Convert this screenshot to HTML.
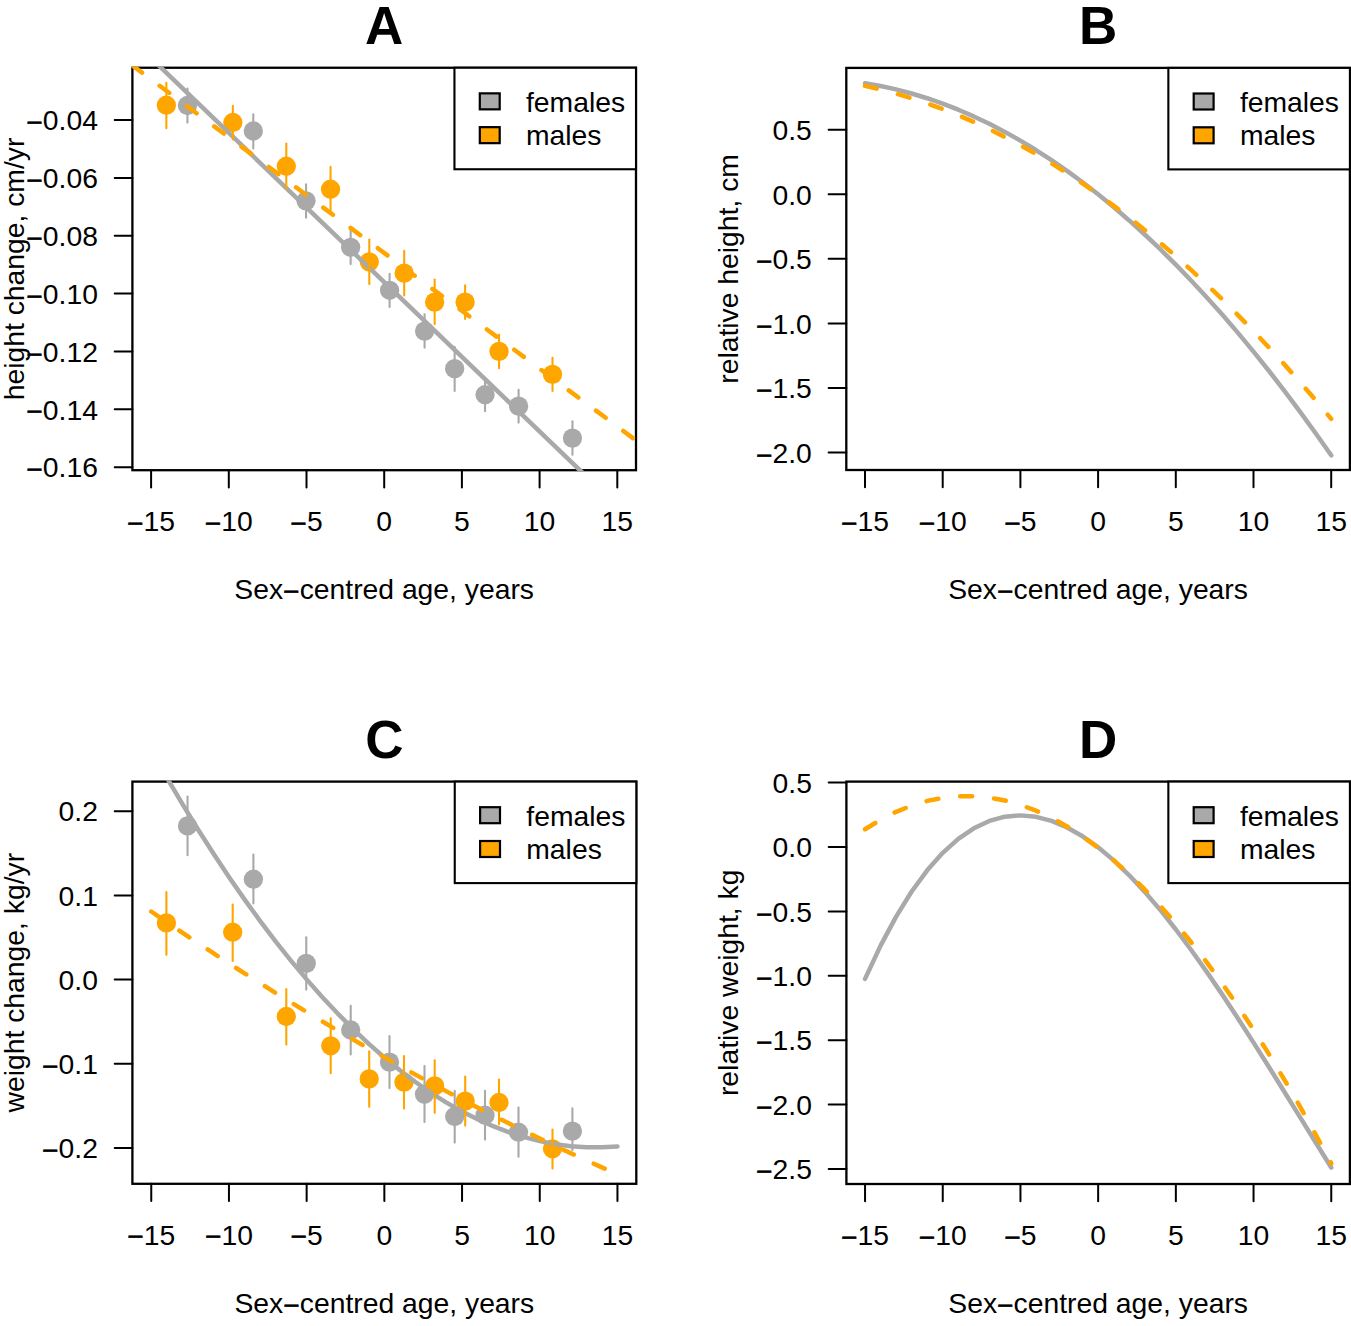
<!DOCTYPE html>
<html><head><meta charset="utf-8"><title>Figure</title>
<style>html,body{margin:0;padding:0;background:#fff;width:1351px;height:1326px;overflow:hidden}
svg text{font-family:"Liberation Sans", sans-serif;font-size:28.3px;fill:#000}</style></head>
<body>
<svg width="1351" height="1326" viewBox="0 0 1351 1326" style="display:block">
<rect x="0" y="0" width="1351" height="1326" fill="#fff"/>
<defs>
<clipPath id="clipA"><rect x="131.10" y="66.45" width="506.20" height="405.05"/></clipPath>
<clipPath id="clipB"><rect x="845.00" y="66.60" width="506.20" height="404.70"/></clipPath>
<clipPath id="clipC"><rect x="131.10" y="780.30" width="506.50" height="404.80"/></clipPath>
<clipPath id="clipD"><rect x="845.10" y="780.30" width="506.10" height="405.00"/></clipPath>
</defs>
<rect x="132.4" y="67.75" width="503.60" height="402.45" fill="none" stroke="#000" stroke-width="2.3"/>
<g clip-path="url(#clipA)">
<circle cx="187.45" cy="105.50" r="9.65" fill="#A9A9A9"/>
<circle cx="253.30" cy="131.00" r="9.65" fill="#A9A9A9"/>
<circle cx="306.05" cy="200.85" r="9.65" fill="#A9A9A9"/>
<circle cx="350.65" cy="247.30" r="9.65" fill="#A9A9A9"/>
<circle cx="389.60" cy="290.30" r="9.65" fill="#A9A9A9"/>
<circle cx="424.60" cy="331.10" r="9.65" fill="#A9A9A9"/>
<circle cx="454.65" cy="368.65" r="9.65" fill="#A9A9A9"/>
<circle cx="485.05" cy="394.70" r="9.65" fill="#A9A9A9"/>
<circle cx="518.60" cy="406.15" r="9.65" fill="#A9A9A9"/>
<circle cx="572.45" cy="438.10" r="9.65" fill="#A9A9A9"/>
<circle cx="166.35" cy="105.20" r="9.65" fill="#FFA500"/>
<circle cx="232.85" cy="122.45" r="9.65" fill="#FFA500"/>
<circle cx="286.30" cy="166.25" r="9.65" fill="#FFA500"/>
<circle cx="330.55" cy="189.25" r="9.65" fill="#FFA500"/>
<circle cx="369.30" cy="261.85" r="9.65" fill="#FFA500"/>
<circle cx="404.20" cy="273.15" r="9.65" fill="#FFA500"/>
<circle cx="434.65" cy="302.15" r="9.65" fill="#FFA500"/>
<circle cx="465.10" cy="302.15" r="9.65" fill="#FFA500"/>
<circle cx="499.05" cy="351.40" r="9.65" fill="#FFA500"/>
<circle cx="552.50" cy="374.40" r="9.65" fill="#FFA500"/>
<line x1="187.45" y1="88.50" x2="187.45" y2="122.60" stroke="#A9A9A9" stroke-width="2.1" stroke-linecap="round"/>
<line x1="253.30" y1="114.40" x2="253.30" y2="148.50" stroke="#A9A9A9" stroke-width="2.1" stroke-linecap="round"/>
<line x1="306.05" y1="184.25" x2="306.05" y2="217.80" stroke="#A9A9A9" stroke-width="2.1" stroke-linecap="round"/>
<line x1="350.65" y1="230.60" x2="350.65" y2="264.10" stroke="#A9A9A9" stroke-width="2.1" stroke-linecap="round"/>
<line x1="389.60" y1="273.80" x2="389.60" y2="307.00" stroke="#A9A9A9" stroke-width="2.1" stroke-linecap="round"/>
<line x1="424.60" y1="314.30" x2="424.60" y2="347.80" stroke="#A9A9A9" stroke-width="2.1" stroke-linecap="round"/>
<line x1="454.65" y1="346.70" x2="454.65" y2="391.00" stroke="#A9A9A9" stroke-width="2.1" stroke-linecap="round"/>
<line x1="485.05" y1="381.50" x2="485.05" y2="411.30" stroke="#A9A9A9" stroke-width="2.1" stroke-linecap="round"/>
<line x1="518.60" y1="389.70" x2="518.60" y2="422.60" stroke="#A9A9A9" stroke-width="2.1" stroke-linecap="round"/>
<line x1="572.45" y1="421.30" x2="572.45" y2="454.80" stroke="#A9A9A9" stroke-width="2.1" stroke-linecap="round"/>
<line x1="132.40" y1="40.15" x2="636.00" y2="524.11" stroke="#A9A9A9" stroke-width="4.5" stroke-linecap="butt"/>
<line x1="166.35" y1="82.80" x2="166.35" y2="128.20" stroke="#FFA500" stroke-width="2.1" stroke-linecap="round"/>
<line x1="232.85" y1="105.90" x2="232.85" y2="139.50" stroke="#FFA500" stroke-width="2.1" stroke-linecap="round"/>
<line x1="286.30" y1="143.50" x2="286.30" y2="188.60" stroke="#FFA500" stroke-width="2.1" stroke-linecap="round"/>
<line x1="330.55" y1="166.90" x2="330.55" y2="210.60" stroke="#FFA500" stroke-width="2.1" stroke-linecap="round"/>
<line x1="369.30" y1="239.50" x2="369.30" y2="284.10" stroke="#FFA500" stroke-width="2.1" stroke-linecap="round"/>
<line x1="404.20" y1="250.90" x2="404.20" y2="295.40" stroke="#FFA500" stroke-width="2.1" stroke-linecap="round"/>
<line x1="434.65" y1="279.45" x2="434.65" y2="324.10" stroke="#FFA500" stroke-width="2.1" stroke-linecap="round"/>
<line x1="465.10" y1="285.40" x2="465.10" y2="319.00" stroke="#FFA500" stroke-width="2.1" stroke-linecap="round"/>
<line x1="499.05" y1="334.65" x2="499.05" y2="368.20" stroke="#FFA500" stroke-width="2.1" stroke-linecap="round"/>
<line x1="552.50" y1="357.80" x2="552.50" y2="391.00" stroke="#FFA500" stroke-width="2.1" stroke-linecap="round"/>
<line x1="132.40" y1="65.48" x2="636.00" y2="440.41" stroke="#FFA500" stroke-width="4.5" stroke-linecap="round" stroke-dasharray="12.0 22.0"/>
</g>
<line x1="151.10" y1="470.20" x2="151.10" y2="487.50" stroke="#000" stroke-width="2.0" stroke-linecap="round"/>
<text x="151.10" y="530.90" text-anchor="middle"><tspan dy="1.9" style="stroke:#000;stroke-width:0.5px">−</tspan><tspan dy="-1.9">15</tspan></text>
<line x1="228.80" y1="470.20" x2="228.80" y2="487.50" stroke="#000" stroke-width="2.0" stroke-linecap="round"/>
<text x="228.80" y="530.90" text-anchor="middle"><tspan dy="1.9" style="stroke:#000;stroke-width:0.5px">−</tspan><tspan dy="-1.9">10</tspan></text>
<line x1="306.50" y1="470.20" x2="306.50" y2="487.50" stroke="#000" stroke-width="2.0" stroke-linecap="round"/>
<text x="306.50" y="530.90" text-anchor="middle"><tspan dy="1.9" style="stroke:#000;stroke-width:0.5px">−</tspan><tspan dy="-1.9">5</tspan></text>
<line x1="384.20" y1="470.20" x2="384.20" y2="487.50" stroke="#000" stroke-width="2.0" stroke-linecap="round"/>
<text x="384.20" y="530.90" text-anchor="middle">0</text>
<line x1="461.90" y1="470.20" x2="461.90" y2="487.50" stroke="#000" stroke-width="2.0" stroke-linecap="round"/>
<text x="461.90" y="530.90" text-anchor="middle">5</text>
<line x1="539.60" y1="470.20" x2="539.60" y2="487.50" stroke="#000" stroke-width="2.0" stroke-linecap="round"/>
<text x="539.60" y="530.90" text-anchor="middle">10</text>
<line x1="617.30" y1="470.20" x2="617.30" y2="487.50" stroke="#000" stroke-width="2.0" stroke-linecap="round"/>
<text x="617.30" y="530.90" text-anchor="middle">15</text>
<line x1="132.40" y1="120.05" x2="114.70" y2="120.05" stroke="#000" stroke-width="2.0" stroke-linecap="round"/>
<text x="97.90" y="130.25" text-anchor="end"><tspan dy="1.9" style="stroke:#000;stroke-width:0.5px">−</tspan><tspan dy="-1.9">0.04</tspan></text>
<line x1="132.40" y1="177.90" x2="114.70" y2="177.90" stroke="#000" stroke-width="2.0" stroke-linecap="round"/>
<text x="97.90" y="188.10" text-anchor="end"><tspan dy="1.9" style="stroke:#000;stroke-width:0.5px">−</tspan><tspan dy="-1.9">0.06</tspan></text>
<line x1="132.40" y1="235.75" x2="114.70" y2="235.75" stroke="#000" stroke-width="2.0" stroke-linecap="round"/>
<text x="97.90" y="245.95" text-anchor="end"><tspan dy="1.9" style="stroke:#000;stroke-width:0.5px">−</tspan><tspan dy="-1.9">0.08</tspan></text>
<line x1="132.40" y1="293.60" x2="114.70" y2="293.60" stroke="#000" stroke-width="2.0" stroke-linecap="round"/>
<text x="97.90" y="303.80" text-anchor="end"><tspan dy="1.9" style="stroke:#000;stroke-width:0.5px">−</tspan><tspan dy="-1.9">0.10</tspan></text>
<line x1="132.40" y1="351.45" x2="114.70" y2="351.45" stroke="#000" stroke-width="2.0" stroke-linecap="round"/>
<text x="97.90" y="361.65" text-anchor="end"><tspan dy="1.9" style="stroke:#000;stroke-width:0.5px">−</tspan><tspan dy="-1.9">0.12</tspan></text>
<line x1="132.40" y1="409.30" x2="114.70" y2="409.30" stroke="#000" stroke-width="2.0" stroke-linecap="round"/>
<text x="97.90" y="419.50" text-anchor="end"><tspan dy="1.9" style="stroke:#000;stroke-width:0.5px">−</tspan><tspan dy="-1.9">0.14</tspan></text>
<line x1="132.40" y1="467.15" x2="114.70" y2="467.15" stroke="#000" stroke-width="2.0" stroke-linecap="round"/>
<text x="97.90" y="477.35" text-anchor="end"><tspan dy="1.9" style="stroke:#000;stroke-width:0.5px">−</tspan><tspan dy="-1.9">0.16</tspan></text>
<text x="384.20" y="599.10" text-anchor="middle">Sex<tspan dy="1.9" style="stroke:#000;stroke-width:0.5px">−</tspan><tspan dy="-1.9">centred age, years</tspan></text>
<text x="23.85" y="268.98" text-anchor="middle" transform="rotate(-90 23.85 268.98)">height change, cm/yr</text>
<text x="384.20" y="43.80" text-anchor="middle" style="font-weight:bold;font-size:53px">A</text>
<rect x="454.45" y="67.75" width="181.55" height="101.50" fill="#fff" stroke="#000" stroke-width="2.1"/>
<rect x="479.80" y="93.35" width="19.9" height="16.0" fill="#A9A9A9" stroke="#000" stroke-width="2.2"/>
<rect x="479.80" y="127.15" width="19.9" height="16.0" fill="#FFA500" stroke="#000" stroke-width="2.2"/>
<text x="526.00" y="111.70">females</text>
<text x="526.00" y="145.20">males</text>
<rect x="846.3" y="67.9" width="503.60" height="402.10" fill="none" stroke="#000" stroke-width="2.3"/>
<g clip-path="url(#clipB)">
<polyline points="865.00,83.29 880.54,86.02 896.08,89.42 911.62,93.49 927.16,98.23 942.70,103.63 958.24,109.69 973.78,116.43 989.32,123.83 1004.86,131.90 1020.40,140.63 1035.94,150.03 1051.48,160.10 1067.02,170.83 1082.56,182.23 1098.10,194.30 1113.64,207.03 1129.18,220.43 1144.72,234.50 1160.26,249.23 1175.80,264.63 1191.34,280.70 1206.88,297.43 1222.42,314.83 1237.96,332.90 1253.50,351.63 1269.04,371.03 1284.58,391.09 1300.12,411.82 1315.66,433.22 1331.20,455.29" fill="none" stroke="#A9A9A9" stroke-width="4.5" stroke-linecap="round" stroke-linejoin="round"/>
<polyline points="865.00,85.87 880.54,89.49 896.08,93.62 911.62,98.27 927.16,103.43 942.70,109.11 958.24,115.31 973.78,122.02 989.32,129.25 1004.86,137.00 1020.40,145.26 1035.94,154.03 1051.48,163.33 1067.02,173.13 1082.56,183.46 1098.10,194.30 1113.64,205.66 1129.18,217.53 1144.72,229.92 1160.26,242.82 1175.80,256.24 1191.34,270.18 1206.88,284.63 1222.42,299.60 1237.96,315.09 1253.50,331.09 1269.04,347.60 1284.58,364.64 1300.12,382.19 1315.66,400.25 1331.20,418.83" fill="none" stroke="#FFA500" stroke-width="4.5" stroke-linecap="round" stroke-linejoin="round" stroke-dasharray="12.0 22.0"/>
</g>
<line x1="865.00" y1="470.00" x2="865.00" y2="487.30" stroke="#000" stroke-width="2.0" stroke-linecap="round"/>
<text x="865.00" y="530.70" text-anchor="middle"><tspan dy="1.9" style="stroke:#000;stroke-width:0.5px">−</tspan><tspan dy="-1.9">15</tspan></text>
<line x1="942.70" y1="470.00" x2="942.70" y2="487.30" stroke="#000" stroke-width="2.0" stroke-linecap="round"/>
<text x="942.70" y="530.70" text-anchor="middle"><tspan dy="1.9" style="stroke:#000;stroke-width:0.5px">−</tspan><tspan dy="-1.9">10</tspan></text>
<line x1="1020.40" y1="470.00" x2="1020.40" y2="487.30" stroke="#000" stroke-width="2.0" stroke-linecap="round"/>
<text x="1020.40" y="530.70" text-anchor="middle"><tspan dy="1.9" style="stroke:#000;stroke-width:0.5px">−</tspan><tspan dy="-1.9">5</tspan></text>
<line x1="1098.10" y1="470.00" x2="1098.10" y2="487.30" stroke="#000" stroke-width="2.0" stroke-linecap="round"/>
<text x="1098.10" y="530.70" text-anchor="middle">0</text>
<line x1="1175.80" y1="470.00" x2="1175.80" y2="487.30" stroke="#000" stroke-width="2.0" stroke-linecap="round"/>
<text x="1175.80" y="530.70" text-anchor="middle">5</text>
<line x1="1253.50" y1="470.00" x2="1253.50" y2="487.30" stroke="#000" stroke-width="2.0" stroke-linecap="round"/>
<text x="1253.50" y="530.70" text-anchor="middle">10</text>
<line x1="1331.20" y1="470.00" x2="1331.20" y2="487.30" stroke="#000" stroke-width="2.0" stroke-linecap="round"/>
<text x="1331.20" y="530.70" text-anchor="middle">15</text>
<line x1="846.30" y1="129.75" x2="828.60" y2="129.75" stroke="#000" stroke-width="2.0" stroke-linecap="round"/>
<text x="811.80" y="139.95" text-anchor="end">0.5</text>
<line x1="846.30" y1="194.30" x2="828.60" y2="194.30" stroke="#000" stroke-width="2.0" stroke-linecap="round"/>
<text x="811.80" y="204.50" text-anchor="end">0.0</text>
<line x1="846.30" y1="258.85" x2="828.60" y2="258.85" stroke="#000" stroke-width="2.0" stroke-linecap="round"/>
<text x="811.80" y="269.05" text-anchor="end"><tspan dy="1.9" style="stroke:#000;stroke-width:0.5px">−</tspan><tspan dy="-1.9">0.5</tspan></text>
<line x1="846.30" y1="323.40" x2="828.60" y2="323.40" stroke="#000" stroke-width="2.0" stroke-linecap="round"/>
<text x="811.80" y="333.60" text-anchor="end"><tspan dy="1.9" style="stroke:#000;stroke-width:0.5px">−</tspan><tspan dy="-1.9">1.0</tspan></text>
<line x1="846.30" y1="387.95" x2="828.60" y2="387.95" stroke="#000" stroke-width="2.0" stroke-linecap="round"/>
<text x="811.80" y="398.15" text-anchor="end"><tspan dy="1.9" style="stroke:#000;stroke-width:0.5px">−</tspan><tspan dy="-1.9">1.5</tspan></text>
<line x1="846.30" y1="452.50" x2="828.60" y2="452.50" stroke="#000" stroke-width="2.0" stroke-linecap="round"/>
<text x="811.80" y="462.70" text-anchor="end"><tspan dy="1.9" style="stroke:#000;stroke-width:0.5px">−</tspan><tspan dy="-1.9">2.0</tspan></text>
<text x="1098.10" y="598.90" text-anchor="middle">Sex<tspan dy="1.9" style="stroke:#000;stroke-width:0.5px">−</tspan><tspan dy="-1.9">centred age, years</tspan></text>
<text x="737.75" y="268.95" text-anchor="middle" transform="rotate(-90 737.75 268.95)">relative height, cm</text>
<text x="1098.10" y="43.95" text-anchor="middle" style="font-weight:bold;font-size:53px">B</text>
<rect x="1168.35" y="67.90" width="181.55" height="101.50" fill="#fff" stroke="#000" stroke-width="2.1"/>
<rect x="1193.70" y="93.50" width="19.9" height="16.0" fill="#A9A9A9" stroke="#000" stroke-width="2.2"/>
<rect x="1193.70" y="127.30" width="19.9" height="16.0" fill="#FFA500" stroke="#000" stroke-width="2.2"/>
<text x="1239.90" y="111.85">females</text>
<text x="1239.90" y="145.35">males</text>
<rect x="132.4" y="781.6" width="503.90" height="402.20" fill="none" stroke="#000" stroke-width="2.3"/>
<g clip-path="url(#clipC)">
<circle cx="187.55" cy="825.90" r="9.65" fill="#A9A9A9"/>
<circle cx="253.40" cy="879.20" r="9.65" fill="#A9A9A9"/>
<circle cx="306.25" cy="963.40" r="9.65" fill="#A9A9A9"/>
<circle cx="350.70" cy="1030.00" r="9.65" fill="#A9A9A9"/>
<circle cx="389.50" cy="1062.10" r="9.65" fill="#A9A9A9"/>
<circle cx="424.50" cy="1094.30" r="9.65" fill="#A9A9A9"/>
<circle cx="454.70" cy="1116.50" r="9.65" fill="#A9A9A9"/>
<circle cx="485.00" cy="1115.20" r="9.65" fill="#A9A9A9"/>
<circle cx="518.50" cy="1132.20" r="9.65" fill="#A9A9A9"/>
<circle cx="572.40" cy="1131.10" r="9.65" fill="#A9A9A9"/>
<circle cx="166.40" cy="922.90" r="9.65" fill="#FFA500"/>
<circle cx="232.70" cy="932.20" r="9.65" fill="#FFA500"/>
<circle cx="286.30" cy="1016.50" r="9.65" fill="#FFA500"/>
<circle cx="330.70" cy="1045.80" r="9.65" fill="#FFA500"/>
<circle cx="369.20" cy="1078.90" r="9.65" fill="#FFA500"/>
<circle cx="404.00" cy="1082.20" r="9.65" fill="#FFA500"/>
<circle cx="434.70" cy="1085.90" r="9.65" fill="#FFA500"/>
<circle cx="465.20" cy="1101.10" r="9.65" fill="#FFA500"/>
<circle cx="499.00" cy="1102.50" r="9.65" fill="#FFA500"/>
<circle cx="552.50" cy="1148.80" r="9.65" fill="#FFA500"/>
<line x1="187.55" y1="796.50" x2="187.55" y2="855.20" stroke="#A9A9A9" stroke-width="2.1" stroke-linecap="round"/>
<line x1="253.40" y1="854.60" x2="253.40" y2="903.40" stroke="#A9A9A9" stroke-width="2.1" stroke-linecap="round"/>
<line x1="306.25" y1="937.30" x2="306.25" y2="989.60" stroke="#A9A9A9" stroke-width="2.1" stroke-linecap="round"/>
<line x1="350.70" y1="1005.70" x2="350.70" y2="1054.40" stroke="#A9A9A9" stroke-width="2.1" stroke-linecap="round"/>
<line x1="389.50" y1="1036.10" x2="389.50" y2="1088.10" stroke="#A9A9A9" stroke-width="2.1" stroke-linecap="round"/>
<line x1="424.50" y1="1066.10" x2="424.50" y2="1121.90" stroke="#A9A9A9" stroke-width="2.1" stroke-linecap="round"/>
<line x1="454.70" y1="1090.90" x2="454.70" y2="1142.60" stroke="#A9A9A9" stroke-width="2.1" stroke-linecap="round"/>
<line x1="485.00" y1="1090.90" x2="485.00" y2="1139.60" stroke="#A9A9A9" stroke-width="2.1" stroke-linecap="round"/>
<line x1="518.50" y1="1107.50" x2="518.50" y2="1156.70" stroke="#A9A9A9" stroke-width="2.1" stroke-linecap="round"/>
<line x1="572.40" y1="1108.40" x2="572.40" y2="1150.20" stroke="#A9A9A9" stroke-width="2.1" stroke-linecap="round"/>
<polyline points="151.25,750.31 166.79,777.58 182.33,803.88 197.87,829.21 213.41,853.58 228.95,876.97 244.49,899.39 260.03,920.84 275.57,941.32 291.11,960.83 306.65,979.37 322.19,996.95 337.73,1013.55 353.27,1029.18 368.81,1043.84 384.35,1057.53 399.89,1070.25 415.43,1082.00 430.97,1092.78 446.51,1102.59 462.05,1111.43 477.59,1119.31 493.13,1126.21 508.67,1132.14 524.21,1137.10 539.75,1141.09 555.29,1144.11 570.83,1146.16 586.37,1147.24 601.91,1147.35 617.45,1146.49" fill="none" stroke="#A9A9A9" stroke-width="4.5" stroke-linecap="round" stroke-linejoin="round"/>
<line x1="166.40" y1="892.00" x2="166.40" y2="954.80" stroke="#FFA500" stroke-width="2.1" stroke-linecap="round"/>
<line x1="232.70" y1="904.60" x2="232.70" y2="961.00" stroke="#FFA500" stroke-width="2.1" stroke-linecap="round"/>
<line x1="286.30" y1="989.10" x2="286.30" y2="1044.40" stroke="#FFA500" stroke-width="2.1" stroke-linecap="round"/>
<line x1="330.70" y1="1018.40" x2="330.70" y2="1073.20" stroke="#FFA500" stroke-width="2.1" stroke-linecap="round"/>
<line x1="369.20" y1="1051.30" x2="369.20" y2="1106.80" stroke="#FFA500" stroke-width="2.1" stroke-linecap="round"/>
<line x1="404.00" y1="1056.10" x2="404.00" y2="1108.50" stroke="#FFA500" stroke-width="2.1" stroke-linecap="round"/>
<line x1="434.70" y1="1060.20" x2="434.70" y2="1112.70" stroke="#FFA500" stroke-width="2.1" stroke-linecap="round"/>
<line x1="465.20" y1="1076.50" x2="465.20" y2="1125.60" stroke="#FFA500" stroke-width="2.1" stroke-linecap="round"/>
<line x1="499.00" y1="1079.50" x2="499.00" y2="1124.30" stroke="#FFA500" stroke-width="2.1" stroke-linecap="round"/>
<line x1="552.50" y1="1129.50" x2="552.50" y2="1168.50" stroke="#FFA500" stroke-width="2.1" stroke-linecap="round"/>
<polyline points="151.25,911.51 166.79,922.13 182.33,932.63 197.87,942.99 213.41,953.23 228.95,963.34 244.49,973.32 260.03,983.17 275.57,992.89 291.11,1002.49 306.65,1011.95 322.19,1021.29 337.73,1030.50 353.27,1039.58 368.81,1048.53 384.35,1057.36 399.89,1066.05 415.43,1074.62 430.97,1083.05 446.51,1091.36 462.05,1099.54 477.59,1107.60 493.13,1115.52 508.67,1123.31 524.21,1130.98 539.75,1138.52 555.29,1145.93 570.83,1153.21 586.37,1160.36 601.91,1167.38 617.45,1174.28" fill="none" stroke="#FFA500" stroke-width="4.5" stroke-linecap="round" stroke-linejoin="round" stroke-dasharray="12.0 22.0"/>
</g>
<line x1="151.25" y1="1183.80" x2="151.25" y2="1201.10" stroke="#000" stroke-width="2.0" stroke-linecap="round"/>
<text x="151.25" y="1244.50" text-anchor="middle"><tspan dy="1.9" style="stroke:#000;stroke-width:0.5px">−</tspan><tspan dy="-1.9">15</tspan></text>
<line x1="228.95" y1="1183.80" x2="228.95" y2="1201.10" stroke="#000" stroke-width="2.0" stroke-linecap="round"/>
<text x="228.95" y="1244.50" text-anchor="middle"><tspan dy="1.9" style="stroke:#000;stroke-width:0.5px">−</tspan><tspan dy="-1.9">10</tspan></text>
<line x1="306.65" y1="1183.80" x2="306.65" y2="1201.10" stroke="#000" stroke-width="2.0" stroke-linecap="round"/>
<text x="306.65" y="1244.50" text-anchor="middle"><tspan dy="1.9" style="stroke:#000;stroke-width:0.5px">−</tspan><tspan dy="-1.9">5</tspan></text>
<line x1="384.35" y1="1183.80" x2="384.35" y2="1201.10" stroke="#000" stroke-width="2.0" stroke-linecap="round"/>
<text x="384.35" y="1244.50" text-anchor="middle">0</text>
<line x1="462.05" y1="1183.80" x2="462.05" y2="1201.10" stroke="#000" stroke-width="2.0" stroke-linecap="round"/>
<text x="462.05" y="1244.50" text-anchor="middle">5</text>
<line x1="539.75" y1="1183.80" x2="539.75" y2="1201.10" stroke="#000" stroke-width="2.0" stroke-linecap="round"/>
<text x="539.75" y="1244.50" text-anchor="middle">10</text>
<line x1="617.45" y1="1183.80" x2="617.45" y2="1201.10" stroke="#000" stroke-width="2.0" stroke-linecap="round"/>
<text x="617.45" y="1244.50" text-anchor="middle">15</text>
<line x1="132.40" y1="811.20" x2="114.70" y2="811.20" stroke="#000" stroke-width="2.0" stroke-linecap="round"/>
<text x="97.90" y="821.40" text-anchor="end">0.2</text>
<line x1="132.40" y1="895.40" x2="114.70" y2="895.40" stroke="#000" stroke-width="2.0" stroke-linecap="round"/>
<text x="97.90" y="905.60" text-anchor="end">0.1</text>
<line x1="132.40" y1="979.60" x2="114.70" y2="979.60" stroke="#000" stroke-width="2.0" stroke-linecap="round"/>
<text x="97.90" y="989.80" text-anchor="end">0.0</text>
<line x1="132.40" y1="1063.80" x2="114.70" y2="1063.80" stroke="#000" stroke-width="2.0" stroke-linecap="round"/>
<text x="97.90" y="1074.00" text-anchor="end"><tspan dy="1.9" style="stroke:#000;stroke-width:0.5px">−</tspan><tspan dy="-1.9">0.1</tspan></text>
<line x1="132.40" y1="1148.00" x2="114.70" y2="1148.00" stroke="#000" stroke-width="2.0" stroke-linecap="round"/>
<text x="97.90" y="1158.20" text-anchor="end"><tspan dy="1.9" style="stroke:#000;stroke-width:0.5px">−</tspan><tspan dy="-1.9">0.2</tspan></text>
<text x="384.35" y="1312.70" text-anchor="middle">Sex<tspan dy="1.9" style="stroke:#000;stroke-width:0.5px">−</tspan><tspan dy="-1.9">centred age, years</tspan></text>
<text x="23.85" y="982.70" text-anchor="middle" transform="rotate(-90 23.85 982.70)">weight change, kg/yr</text>
<text x="384.35" y="757.65" text-anchor="middle" style="font-weight:bold;font-size:53px">C</text>
<rect x="454.75" y="781.60" width="181.55" height="101.50" fill="#fff" stroke="#000" stroke-width="2.1"/>
<rect x="480.10" y="807.20" width="19.9" height="16.0" fill="#A9A9A9" stroke="#000" stroke-width="2.2"/>
<rect x="480.10" y="841.00" width="19.9" height="16.0" fill="#FFA500" stroke="#000" stroke-width="2.2"/>
<text x="526.30" y="825.55">females</text>
<text x="526.30" y="859.05">males</text>
<rect x="846.4" y="781.6" width="503.50" height="402.40" fill="none" stroke="#000" stroke-width="2.3"/>
<g clip-path="url(#clipD)">
<polyline points="865.05,978.89 880.59,945.66 896.13,916.59 911.67,891.53 927.21,870.32 942.75,852.81 958.29,838.85 973.83,828.28 989.37,820.94 1004.91,816.69 1020.45,815.37 1035.99,816.83 1051.53,820.91 1067.07,827.45 1082.61,836.32 1098.15,847.34 1113.69,860.37 1129.23,875.26 1144.77,891.84 1160.31,909.97 1175.85,929.50 1191.39,950.26 1206.93,972.11 1222.47,994.88 1238.01,1018.44 1253.55,1042.62 1269.09,1067.26 1284.63,1092.23 1300.17,1117.35 1315.71,1142.48 1331.25,1167.47" fill="none" stroke="#A9A9A9" stroke-width="4.5" stroke-linecap="round" stroke-linejoin="round"/>
<polyline points="865.05,829.25 880.59,819.74 896.13,811.86 911.67,805.59 927.21,800.91 942.75,797.79 958.29,796.21 973.83,796.15 989.37,797.59 1004.91,800.50 1020.45,804.87 1035.99,810.67 1051.53,817.87 1067.07,826.47 1082.61,836.43 1098.15,847.73 1113.69,860.35 1129.23,874.28 1144.77,889.48 1160.31,905.93 1175.85,923.62 1191.39,942.51 1206.93,962.60 1222.47,983.85 1238.01,1006.25 1253.55,1029.76 1269.09,1054.38 1284.63,1080.08 1300.17,1106.83 1315.71,1134.62 1331.25,1163.42" fill="none" stroke="#FFA500" stroke-width="4.5" stroke-linecap="round" stroke-linejoin="round" stroke-dasharray="12.0 22.0"/>
</g>
<line x1="865.05" y1="1184.00" x2="865.05" y2="1201.30" stroke="#000" stroke-width="2.0" stroke-linecap="round"/>
<text x="865.05" y="1244.70" text-anchor="middle"><tspan dy="1.9" style="stroke:#000;stroke-width:0.5px">−</tspan><tspan dy="-1.9">15</tspan></text>
<line x1="942.75" y1="1184.00" x2="942.75" y2="1201.30" stroke="#000" stroke-width="2.0" stroke-linecap="round"/>
<text x="942.75" y="1244.70" text-anchor="middle"><tspan dy="1.9" style="stroke:#000;stroke-width:0.5px">−</tspan><tspan dy="-1.9">10</tspan></text>
<line x1="1020.45" y1="1184.00" x2="1020.45" y2="1201.30" stroke="#000" stroke-width="2.0" stroke-linecap="round"/>
<text x="1020.45" y="1244.70" text-anchor="middle"><tspan dy="1.9" style="stroke:#000;stroke-width:0.5px">−</tspan><tspan dy="-1.9">5</tspan></text>
<line x1="1098.15" y1="1184.00" x2="1098.15" y2="1201.30" stroke="#000" stroke-width="2.0" stroke-linecap="round"/>
<text x="1098.15" y="1244.70" text-anchor="middle">0</text>
<line x1="1175.85" y1="1184.00" x2="1175.85" y2="1201.30" stroke="#000" stroke-width="2.0" stroke-linecap="round"/>
<text x="1175.85" y="1244.70" text-anchor="middle">5</text>
<line x1="1253.55" y1="1184.00" x2="1253.55" y2="1201.30" stroke="#000" stroke-width="2.0" stroke-linecap="round"/>
<text x="1253.55" y="1244.70" text-anchor="middle">10</text>
<line x1="1331.25" y1="1184.00" x2="1331.25" y2="1201.30" stroke="#000" stroke-width="2.0" stroke-linecap="round"/>
<text x="1331.25" y="1244.70" text-anchor="middle">15</text>
<line x1="846.40" y1="782.60" x2="828.70" y2="782.60" stroke="#000" stroke-width="2.0" stroke-linecap="round"/>
<text x="811.90" y="792.80" text-anchor="end">0.5</text>
<line x1="846.40" y1="847.00" x2="828.70" y2="847.00" stroke="#000" stroke-width="2.0" stroke-linecap="round"/>
<text x="811.90" y="857.20" text-anchor="end">0.0</text>
<line x1="846.40" y1="911.40" x2="828.70" y2="911.40" stroke="#000" stroke-width="2.0" stroke-linecap="round"/>
<text x="811.90" y="921.60" text-anchor="end"><tspan dy="1.9" style="stroke:#000;stroke-width:0.5px">−</tspan><tspan dy="-1.9">0.5</tspan></text>
<line x1="846.40" y1="975.80" x2="828.70" y2="975.80" stroke="#000" stroke-width="2.0" stroke-linecap="round"/>
<text x="811.90" y="986.00" text-anchor="end"><tspan dy="1.9" style="stroke:#000;stroke-width:0.5px">−</tspan><tspan dy="-1.9">1.0</tspan></text>
<line x1="846.40" y1="1040.20" x2="828.70" y2="1040.20" stroke="#000" stroke-width="2.0" stroke-linecap="round"/>
<text x="811.90" y="1050.40" text-anchor="end"><tspan dy="1.9" style="stroke:#000;stroke-width:0.5px">−</tspan><tspan dy="-1.9">1.5</tspan></text>
<line x1="846.40" y1="1104.60" x2="828.70" y2="1104.60" stroke="#000" stroke-width="2.0" stroke-linecap="round"/>
<text x="811.90" y="1114.80" text-anchor="end"><tspan dy="1.9" style="stroke:#000;stroke-width:0.5px">−</tspan><tspan dy="-1.9">2.0</tspan></text>
<line x1="846.40" y1="1169.00" x2="828.70" y2="1169.00" stroke="#000" stroke-width="2.0" stroke-linecap="round"/>
<text x="811.90" y="1179.20" text-anchor="end"><tspan dy="1.9" style="stroke:#000;stroke-width:0.5px">−</tspan><tspan dy="-1.9">2.5</tspan></text>
<text x="1098.15" y="1312.90" text-anchor="middle">Sex<tspan dy="1.9" style="stroke:#000;stroke-width:0.5px">−</tspan><tspan dy="-1.9">centred age, years</tspan></text>
<text x="737.85" y="982.80" text-anchor="middle" transform="rotate(-90 737.85 982.80)">relative weight, kg</text>
<text x="1098.15" y="757.65" text-anchor="middle" style="font-weight:bold;font-size:53px">D</text>
<rect x="1168.35" y="781.60" width="181.55" height="101.50" fill="#fff" stroke="#000" stroke-width="2.1"/>
<rect x="1193.70" y="807.20" width="19.9" height="16.0" fill="#A9A9A9" stroke="#000" stroke-width="2.2"/>
<rect x="1193.70" y="841.00" width="19.9" height="16.0" fill="#FFA500" stroke="#000" stroke-width="2.2"/>
<text x="1239.90" y="825.55">females</text>
<text x="1239.90" y="859.05">males</text>
</svg>
</body></html>
